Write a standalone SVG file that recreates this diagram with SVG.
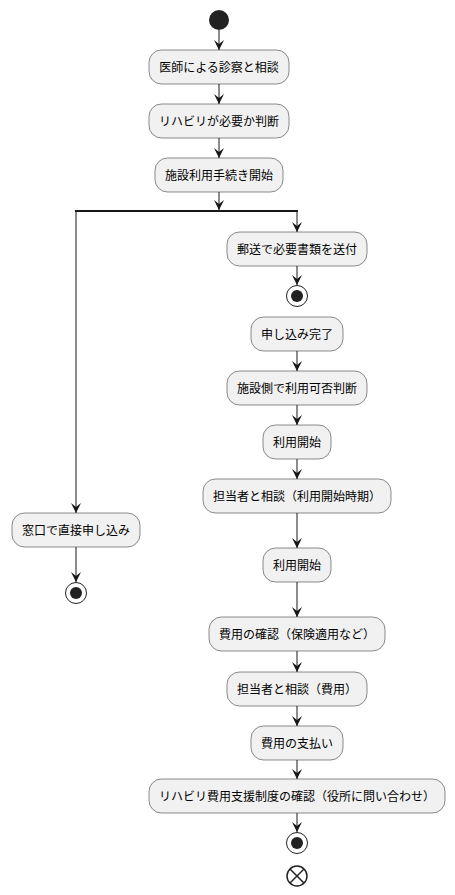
<svg xmlns="http://www.w3.org/2000/svg" width="455" height="895" viewBox="0 0 455 895">
<style>
.box{fill:#F1F1F1;stroke:#181818;stroke-width:0.5}
.t{font-family:"Noto Sans CJK JP","Noto Sans",sans-serif;font-size:12px;fill:#000;text-anchor:middle}
.ln{stroke:#181818;stroke-width:1;fill:none}
</style>
<defs>
<marker id="arr" viewBox="0 0 10 10" refX="10" refY="5" markerWidth="10" markerHeight="10" markerUnits="userSpaceOnUse" orient="auto">
<polygon points="0,0 10,5 0,10 4,5" fill="#181818"/>
</marker>
</defs>
<rect width="455" height="895" fill="#FFFFFF"/>
<g id="connectors">
<line class="ln" x1="219" y1="30" x2="219" y2="50" marker-end="url(#arr)"/>
<line class="ln" x1="219" y1="84" x2="219" y2="104" marker-end="url(#arr)"/>
<line class="ln" x1="219" y1="138" x2="219" y2="158" marker-end="url(#arr)"/>
<line class="ln" x1="219" y1="192" x2="219" y2="210" marker-end="url(#arr)"/>
<polyline class="ln" points="76,212 76,513" marker-end="url(#arr)"/>
<polyline class="ln" points="297,212 297,232" marker-end="url(#arr)"/>
<line class="ln" x1="297" y1="266" x2="297" y2="285" marker-end="url(#arr)"/>
<line class="ln" x1="76" y1="547" x2="76" y2="582" marker-end="url(#arr)"/>
<line class="ln" x1="297" y1="351" x2="297" y2="371" marker-end="url(#arr)"/>
<line class="ln" x1="297" y1="405" x2="297" y2="425" marker-end="url(#arr)"/>
<line class="ln" x1="297" y1="459" x2="297" y2="479" marker-end="url(#arr)"/>
<line class="ln" x1="297" y1="513" x2="297" y2="548" marker-end="url(#arr)"/>
<line class="ln" x1="297" y1="582" x2="297" y2="617" marker-end="url(#arr)"/>
<line class="ln" x1="297" y1="651" x2="297" y2="672" marker-end="url(#arr)"/>
<line class="ln" x1="297" y1="706" x2="297" y2="726" marker-end="url(#arr)"/>
<line class="ln" x1="297" y1="760" x2="297" y2="779" marker-end="url(#arr)"/>
<line class="ln" x1="297" y1="813" x2="297" y2="832" marker-end="url(#arr)"/>
</g>
<g id="start"><circle cx="219" cy="20" r="10" fill="#222222"/></g>
<g id="n1"><rect class="box" x="149" y="50" width="140" height="34" rx="12.5"/><text class="t" x="219" y="71.5">医師による診察と相談</text></g>
<g id="n2"><rect class="box" x="149" y="104" width="140" height="34" rx="12.5"/><text class="t" x="219" y="125.5">リハビリが必要か判断</text></g>
<g id="n3"><rect class="box" x="155" y="158" width="128" height="34" rx="12.5"/><text class="t" x="219" y="179.5">施設利用手続き開始</text></g>
<g id="fork"><rect x="75" y="210" width="223" height="2" fill="#181818"/></g>
<g id="n4"><rect class="box" x="227" y="232" width="140" height="34" rx="12.5"/><text class="t" x="297" y="253.5">郵送で必要書類を送付</text></g>
<g id="end1"><circle cx="297" cy="296" r="10.5" fill="none" stroke="#222222" stroke-width="1"/><circle cx="297" cy="296" r="6" fill="#222222"/></g>
<g id="n5"><rect class="box" x="251" y="317" width="92" height="34" rx="12.5"/><text class="t" x="297" y="338.5">申し込み完了</text></g>
<g id="n6"><rect class="box" x="227" y="371" width="140" height="34" rx="12.5"/><text class="t" x="297" y="392.5">施設側で利用可否判断</text></g>
<g id="n7"><rect class="box" x="263" y="425" width="68" height="34" rx="12.5"/><text class="t" x="297" y="446.5">利用開始</text></g>
<g id="n8"><rect class="box" x="203" y="479" width="188" height="34" rx="12.5"/><text class="t" x="297" y="500.5">担当者と相談（利用開始時期）</text></g>
<g id="n9"><rect class="box" x="263" y="548" width="68" height="34" rx="12.5"/><text class="t" x="297" y="569.5">利用開始</text></g>
<g id="n10"><rect class="box" x="209" y="617" width="176" height="34" rx="12.5"/><text class="t" x="297" y="638.5">費用の確認（保険適用など）</text></g>
<g id="n11"><rect class="box" x="227" y="672" width="140" height="34" rx="12.5"/><text class="t" x="297" y="693.5">担当者と相談（費用）</text></g>
<g id="n12"><rect class="box" x="251" y="726" width="92" height="34" rx="12.5"/><text class="t" x="297" y="747.5">費用の支払い</text></g>
<g id="n13"><rect class="box" x="149" y="779" width="296" height="34" rx="12.5"/><text class="t" x="297" y="800.5">リハビリ費用支援制度の確認（役所に問い合わせ）</text></g>
<g id="end2"><circle cx="297" cy="843" r="10.5" fill="none" stroke="#222222" stroke-width="1"/><circle cx="297" cy="843" r="6" fill="#222222"/></g>
<g id="stop"><circle cx="297" cy="876" r="10" fill="none" stroke="#222222" stroke-width="1.5"/><line x1="290" y1="869" x2="304" y2="883" stroke="#222222" stroke-width="1.5"/><line x1="304" y1="869" x2="290" y2="883" stroke="#222222" stroke-width="1.5"/></g>
<g id="n14"><rect class="box" x="12" y="513" width="128" height="34" rx="12.5"/><text class="t" x="76" y="534.5">窓口で直接申し込み</text></g>
<g id="end3"><circle cx="76" cy="593" r="10.5" fill="none" stroke="#222222" stroke-width="1"/><circle cx="76" cy="593" r="6" fill="#222222"/></g>
</svg>
